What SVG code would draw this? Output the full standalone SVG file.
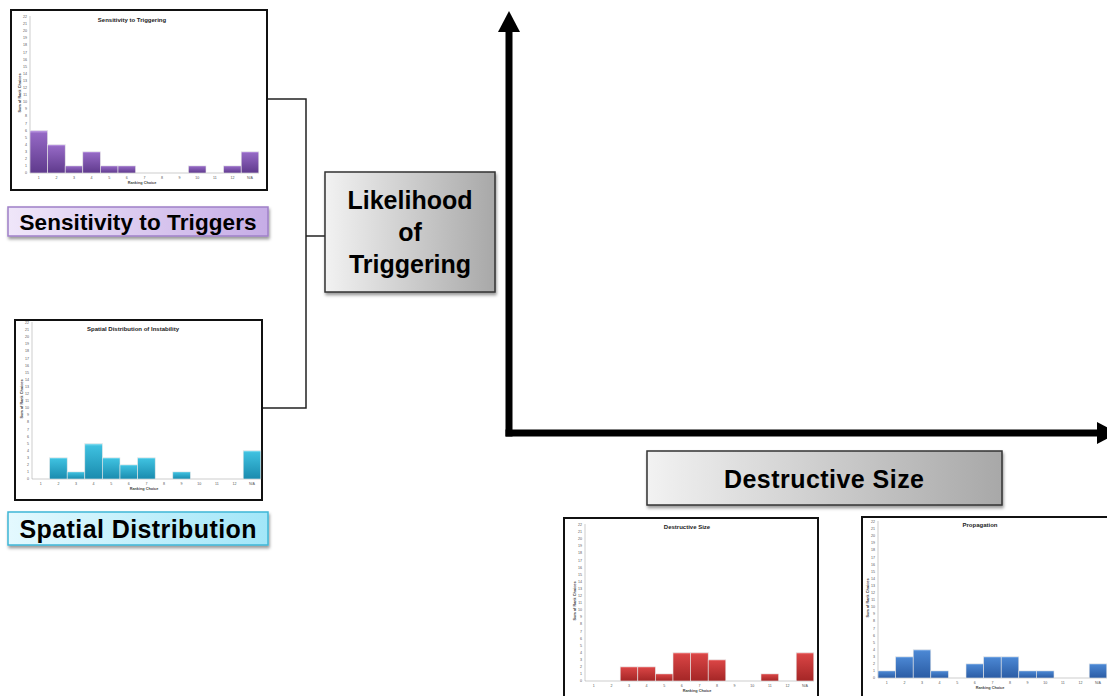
<svg xmlns="http://www.w3.org/2000/svg" xmlns:xlink="http://www.w3.org/1999/xlink" width="1107" height="696" viewBox="0 0 1107 696">
<style>
.frame{fill:#fff;stroke:#111;stroke-width:2}
.ax{stroke:#999;stroke-width:0.5;fill:none}
.tk{font-family:"Liberation Sans",Arial,sans-serif;font-size:3.6px;fill:#555}
.at{font-family:"Liberation Sans",Arial,sans-serif;font-size:3.8px;fill:#444;font-weight:bold}
.ct{font-family:"Liberation Sans",Arial,sans-serif;font-size:6px;font-weight:bold;fill:#222;text-anchor:middle}
.bar{stroke:#e6e6e6;stroke-width:0.6}
.lbl{font-family:"Liberation Sans",Arial,sans-serif;font-weight:bold;fill:#000;text-anchor:middle}
.gbox{stroke:#333;stroke-width:1.5}
.conn{fill:none;stroke:#222;stroke-width:1.5}
.axis{fill:none;stroke:#000;stroke-width:7}
</style>
<defs>
<filter id="sh" x="-10%" y="-20%" width="125%" height="160%"><feDropShadow dx="1" dy="2.5" stdDeviation="1.5" flood-color="#000" flood-opacity="0.4"/></filter>
<linearGradient id="gPur" x1="0" y1="0" x2="0" y2="1"><stop offset="0" stop-color="#c8a8ec"/><stop offset="0.07" stop-color="#9468c4"/><stop offset="1" stop-color="#5f3a8c"/></linearGradient>
<linearGradient id="gCyan" x1="0" y1="0" x2="0" y2="1"><stop offset="0" stop-color="#9ae6f6"/><stop offset="0.07" stop-color="#3ec0df"/><stop offset="1" stop-color="#1a8bae"/></linearGradient>
<linearGradient id="gRed" x1="0" y1="0" x2="0" y2="1"><stop offset="0" stop-color="#f39090"/><stop offset="0.07" stop-color="#d84444"/><stop offset="1" stop-color="#a42626"/></linearGradient>
<linearGradient id="gBlue" x1="0" y1="0" x2="0" y2="1"><stop offset="0" stop-color="#92bcee"/><stop offset="0.07" stop-color="#4a86d2"/><stop offset="1" stop-color="#2b5ca4"/></linearGradient>
<linearGradient id="gGray" x1="0" y1="0" x2="1" y2="0"><stop offset="0" stop-color="#f2f2f2"/><stop offset="1" stop-color="#a8a8a8"/></linearGradient>
<linearGradient id="gLav" x1="0" y1="0" x2="1" y2="0"><stop offset="0" stop-color="#efe6f9"/><stop offset="1" stop-color="#c6ade6"/></linearGradient>
<linearGradient id="gSky" x1="0" y1="0" x2="1" y2="0"><stop offset="0" stop-color="#e4f9fe"/><stop offset="1" stop-color="#a2e6f8"/></linearGradient>
<marker id="arr" viewBox="0 0 21 22" refX="0" refY="11" markerWidth="21" markerHeight="22" markerUnits="userSpaceOnUse" orient="auto"><path d="M0,0 L21,11 L0,22 Z" fill="#000"/></marker>
<g id="chartAxes">
<line class="ax" x1="0" y1="0" x2="0" y2="-157"/>
<line class="ax" x1="0" y1="0" x2="229" y2="0"/>
<g class="tk" text-anchor="end">
<text x="-3" y="1.2">0</text><text x="-3" y="-5.9">1</text><text x="-3" y="-13">2</text><text x="-3" y="-20.1">3</text><text x="-3" y="-27.2">4</text><text x="-3" y="-34.3">5</text><text x="-3" y="-41.4">6</text><text x="-3" y="-48.5">7</text><text x="-3" y="-55.6">8</text><text x="-3" y="-62.7">9</text><text x="-3" y="-69.8">10</text><text x="-3" y="-76.9">11</text><text x="-3" y="-84">12</text><text x="-3" y="-91.1">13</text><text x="-3" y="-98.2">14</text><text x="-3" y="-105.3">15</text><text x="-3" y="-112.4">16</text><text x="-3" y="-119.5">17</text><text x="-3" y="-126.6">18</text><text x="-3" y="-133.7">19</text><text x="-3" y="-140.8">20</text><text x="-3" y="-147.9">21</text><text x="-3" y="-155">22</text>
</g>
<g class="tk" text-anchor="middle">
<text x="8.8" y="5.5">1</text><text x="26.4" y="5.5">2</text><text x="44" y="5.5">3</text><text x="61.6" y="5.5">4</text><text x="79.2" y="5.5">5</text><text x="96.8" y="5.5">6</text><text x="114.4" y="5.5">7</text><text x="132" y="5.5">8</text><text x="149.6" y="5.5">9</text><text x="167.2" y="5.5">10</text><text x="184.8" y="5.5">11</text><text x="202.4" y="5.5">12</text><text x="220" y="5.5">N/A</text>
</g>
<text class="at" transform="translate(-9,-80) rotate(-90)" text-anchor="middle">Sum of Rank Choices</text>
<text class="at" x="112" y="10.5" text-anchor="middle">Ranking Choice</text>
</g>
</defs>
<rect width="1107" height="696" fill="#fff"/>

<g id="axes">
<line class="axis" x1="509" y1="436.5" x2="509" y2="32" marker-end="url(#arr)"/>
<line class="axis" x1="505.5" y1="433" x2="1097" y2="433" marker-end="url(#arr)"/>
</g>

<g id="connectors">
<path class="conn" d="M267,99 H306 V408 H262"/>
<path class="conn" d="M306,236 H325"/>
</g>

<g id="chart-sensitivity">
<rect class="frame" x="11" y="10" width="256" height="180"/>
<use xlink:href="#chartAxes" href="#chartAxes" transform="translate(30,173)"/>
<text class="ct" x="132" y="22">Sensitivity to Triggering</text>
<g transform="translate(30,173)" fill="url(#gPur)">
<rect class="bar" x="0" y="-42.6" width="17.6" height="42.6"/>
<rect class="bar" x="17.6" y="-28.4" width="17.6" height="28.4"/>
<rect class="bar" x="35.2" y="-7.1" width="17.6" height="7.1"/>
<rect class="bar" x="52.8" y="-21.3" width="17.6" height="21.3"/>
<rect class="bar" x="70.4" y="-7.1" width="17.6" height="7.1"/>
<rect class="bar" x="88" y="-7.1" width="17.6" height="7.1"/>
<rect class="bar" x="158.4" y="-7.1" width="17.6" height="7.1"/>
<rect class="bar" x="193.6" y="-7.1" width="17.6" height="7.1"/>
<rect class="bar" x="211.2" y="-21.3" width="17.6" height="21.3"/>
</g>
</g>

<g id="label-sensitivity">
<rect x="8" y="207" width="260" height="29" fill="url(#gLav)" stroke="#9f80c8" stroke-width="1.5" filter="url(#sh)"/>
<text class="lbl" x="138" y="229.5" font-size="22.5" textLength="237">Sensitivity to Triggers</text>
</g>

<g id="chart-spatial">
<rect class="frame" x="15" y="320" width="247" height="180"/>
<use xlink:href="#chartAxes" href="#chartAxes" transform="translate(32,479)"/>
<text class="ct" x="133" y="331">Spatial Distribution of Instability</text>
<g transform="translate(32,479)" fill="url(#gCyan)">
<rect class="bar" x="17.6" y="-21.3" width="17.6" height="21.3"/>
<rect class="bar" x="35.2" y="-7.1" width="17.6" height="7.1"/>
<rect class="bar" x="52.8" y="-35.5" width="17.6" height="35.5"/>
<rect class="bar" x="70.4" y="-21.3" width="17.6" height="21.3"/>
<rect class="bar" x="88" y="-14.2" width="17.6" height="14.2"/>
<rect class="bar" x="105.6" y="-21.3" width="17.6" height="21.3"/>
<rect class="bar" x="140.8" y="-7.1" width="17.6" height="7.1"/>
<rect class="bar" x="211.2" y="-28.4" width="17.6" height="28.4"/>
</g>
</g>

<g id="label-spatial">
<rect x="8" y="512" width="260" height="33" fill="url(#gSky)" stroke="#3fb6d6" stroke-width="1.5" filter="url(#sh)"/>
<text class="lbl" x="138" y="537.5" font-size="25" textLength="237">Spatial Distribution</text>
</g>

<g id="node-likelihood">
<rect class="gbox" x="325" y="172" width="170" height="120" fill="url(#gGray)" filter="url(#sh)"/>
<text class="lbl" x="410" y="209" font-size="25">Likelihood</text>
<text class="lbl" x="410" y="241" font-size="25">of</text>
<text class="lbl" x="410" y="273" font-size="25">Triggering</text>
</g>

<g id="node-destructive">
<rect class="gbox" x="647" y="451" width="355" height="54" fill="url(#gGray)" filter="url(#sh)"/>
<text class="lbl" x="824" y="488" font-size="25" textLength="200">Destructive Size</text>
</g>

<g id="chart-destructive">
<rect class="frame" x="564" y="518" width="254" height="190"/>
<use xlink:href="#chartAxes" href="#chartAxes" transform="translate(585,681)"/>
<text class="ct" x="687" y="529">Destructive Size</text>
<g transform="translate(585,681)" fill="url(#gRed)">
<rect class="bar" x="35.2" y="-14.2" width="17.6" height="14.2"/>
<rect class="bar" x="52.8" y="-14.2" width="17.6" height="14.2"/>
<rect class="bar" x="70.4" y="-7.1" width="17.6" height="7.1"/>
<rect class="bar" x="88" y="-28.4" width="17.6" height="28.4"/>
<rect class="bar" x="105.6" y="-28.4" width="17.6" height="28.4"/>
<rect class="bar" x="123.2" y="-21.3" width="17.6" height="21.3"/>
<rect class="bar" x="176" y="-7.1" width="17.6" height="7.1"/>
<rect class="bar" x="211.2" y="-28.4" width="17.6" height="28.4"/>
</g>
</g>

<g id="chart-propagation">
<rect class="frame" x="862" y="517" width="260" height="190"/>
<use xlink:href="#chartAxes" href="#chartAxes" transform="translate(878,678)"/>
<text class="ct" x="980" y="527">Propagation</text>
<g transform="translate(878,678)" fill="url(#gBlue)">
<rect class="bar" x="0" y="-7.1" width="17.6" height="7.1"/>
<rect class="bar" x="17.6" y="-21.3" width="17.6" height="21.3"/>
<rect class="bar" x="35.2" y="-28.4" width="17.6" height="28.4"/>
<rect class="bar" x="52.8" y="-7.1" width="17.6" height="7.1"/>
<rect class="bar" x="88" y="-14.2" width="17.6" height="14.2"/>
<rect class="bar" x="105.6" y="-21.3" width="17.6" height="21.3"/>
<rect class="bar" x="123.2" y="-21.3" width="17.6" height="21.3"/>
<rect class="bar" x="140.8" y="-7.1" width="17.6" height="7.1"/>
<rect class="bar" x="158.4" y="-7.1" width="17.6" height="7.1"/>
<rect class="bar" x="211.2" y="-14.2" width="17.6" height="14.2"/>
</g>
</g>
</svg>
